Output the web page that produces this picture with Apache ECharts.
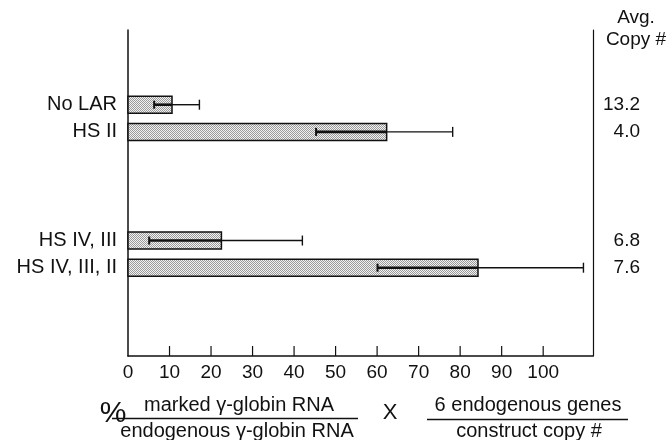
<!DOCTYPE html>
<html>
<head>
<meta charset="utf-8">
<script src="https://cdn.jsdelivr.net/npm/echarts@6/dist/echarts.min.js"></script>
<style>
  html, body { margin: 0; padding: 0; background: #fff; }
  #chart { width: 672px; height: 440px; }
</style>
</head>
<body>
<div id="chart"></div>
<script>
// data
const categories = ['No LAR', 'HS II', 'HS IV, III', 'HS IV, III, II']
const meanValues = [10.6, 62.3, 22.5, 84.3]
const errLow = [6.3, 45.3, 5.1, 60.1]
const errHigh = [17.2, 78.2, 42.0, 109.7]
const copyNumbers = ['13.2', '4.0', '6.8', '7.6']
const xTicks = [0, 10, 20, 30, 40, 50, 60, 70, 80, 90, 100]

// layout: rows on the category axis (blank rows make the gaps)
const totalSlots = 24
const slotOf = [5, 7, 15, 17]
const barPx = 17

const slotNames = []
for (let i = 0; i < totalSlots; i++) slotNames.push(String(i))
const leftLabel = {}
const rightLabel = {}
slotOf.forEach((s, i) => { leftLabel[s] = categories[i]; rightLabel[s] = copyNumbers[i] })

const barData = meanValues.map((v, i) => [v, slotOf[i]])
const errData = meanValues.map((v, i) => [errLow[i], v, errHigh[i], slotOf[i]])
const tickData = xTicks.filter(v => v > 0).map(v => [v])

// stippled fill
const tile = document.createElement('canvas')
tile.width = 2
tile.height = 2
const tctx = tile.getContext('2d')
tctx.fillStyle = '#f2f2f2'
tctx.fillRect(0, 0, 2, 2)
tctx.fillStyle = '#9a9a9a'
tctx.fillRect(0, 0, 1, 1)
tctx.fillRect(1, 1, 1, 1)

const font = 'Liberation Sans, Arial, Helvetica, sans-serif'
const ink = '#111'

const chart = echarts.init(document.getElementById('chart'), null, { renderer: 'canvas' })

const option = {
  animation: false,
  backgroundColor: '#fff',
  textStyle: { fontFamily: font, color: ink },
  grid: { left: 128, right: 79, top: 30, bottom: 84 },
  xAxis: {
    type: 'value',
    min: 0,
    max: 112,
    splitLine: { show: false },
    axisLine: { show: true, lineStyle: { color: ink, width: 1.5 } },
    axisTick: { show: false },
    axisLabel: { customValues: xTicks, margin: 7, fontSize: 19, color: ink, fontFamily: font }
  },
  yAxis: [
    {
      type: 'category',
      data: slotNames,
      inverse: true,
      position: 'left',
      axisLine: { show: true, lineStyle: { color: ink, width: 1.5 } },
      axisTick: { show: false },
      splitLine: { show: false },
      axisLabel: {
        interval: 0,
        margin: 11,
        fontSize: 20,
        color: ink,
        fontFamily: font,
        formatter: (v, idx) => leftLabel[idx] || ''
      }
    },
    {
      type: 'category',
      data: slotNames,
      inverse: true,
      position: 'right',
      axisLine: { show: true, onZero: false, lineStyle: { color: ink, width: 1.2 } },
      axisTick: { show: false },
      splitLine: { show: false },
      axisLabel: {
        interval: 0,
        margin: 47,
        align: 'right',
        fontSize: 19,
        color: ink,
        fontFamily: font,
        formatter: (v, idx) => rightLabel[idx] || ''
      }
    }
  ],
  graphic: [
    { type: 'text', x: 636, y: 18, style: { text: 'Avg.', font: '19px ' + font, fill: ink, textAlign: 'center', textVerticalAlign: 'middle' } },
    { type: 'text', x: 636, y: 40, style: { text: 'Copy #', font: '19px ' + font, fill: ink, textAlign: 'center', textVerticalAlign: 'middle' } },
    { type: 'text', x: 113, y: 414, style: { text: '%', font: '30px ' + font, fill: ink, textAlign: 'center', textVerticalAlign: 'middle' } },
    { type: 'text', x: 239, y: 405, style: { text: 'marked γ-globin RNA', font: '20px ' + font, fill: ink, textAlign: 'center', textVerticalAlign: 'middle' } },
    { type: 'line', shape: { x1: 112, y1: 418.5, x2: 358, y2: 418.5 }, style: { stroke: ink, lineWidth: 1.5 } },
    { type: 'text', x: 237, y: 431, style: { text: 'endogenous γ-globin RNA', font: '20px ' + font, fill: ink, textAlign: 'center', textVerticalAlign: 'middle' } },
    { type: 'text', x: 390, y: 413, style: { text: 'X', font: '22px ' + font, fill: ink, textAlign: 'center', textVerticalAlign: 'middle' } },
    { type: 'text', x: 528, y: 405, style: { text: '6 endogenous genes', font: '20px ' + font, fill: ink, textAlign: 'center', textVerticalAlign: 'middle' } },
    { type: 'line', shape: { x1: 427, y1: 419.5, x2: 628, y2: 419.5 }, style: { stroke: ink, lineWidth: 1.5 } },
    { type: 'text', x: 529, y: 431, style: { text: 'construct copy #', font: '20px ' + font, fill: ink, textAlign: 'center', textVerticalAlign: 'middle' } }
  ],
  series: [
    {
      // horizontal bars (custom so the bar can be thicker than one row)
      name: 'mean',
      type: 'custom',
      yAxisIndex: 0,
      data: barData,
      encode: { x: 0, y: 1 },
      z: 2,
      renderItem: function (params, api) {
        const y = api.value(1)
        const p0 = api.coord([0, y])
        const p1 = api.coord([api.value(0), y])
        return {
          type: 'rect',
          shape: { x: p0[0], y: p0[1] - barPx / 2, width: p1[0] - p0[0], height: barPx },
          style: { fill: { image: tile, repeat: 'repeat' }, stroke: ink, lineWidth: 1.5 }
        }
      }
    },
    {
      name: 'error',
      type: 'custom',
      yAxisIndex: 0,
      data: errData,
      encode: { x: [0, 1, 2], y: 3 },
      z: 3,
      renderItem: function (params, api) {
        const y = api.value(3)
        const pLow = api.coord([api.value(0), y])
        const pMid = api.coord([api.value(1), y])
        const pHigh = api.coord([api.value(2), y])
        const cy = pMid[1]
        return {
          type: 'group',
          children: [
            { type: 'line', shape: { x1: pLow[0], y1: cy, x2: pMid[0], y2: cy }, style: { stroke: ink, lineWidth: 2.6 } },
            { type: 'line', shape: { x1: pLow[0], y1: cy - 4, x2: pLow[0], y2: cy + 4 }, style: { stroke: ink, lineWidth: 2 } },
            { type: 'line', shape: { x1: pMid[0], y1: cy, x2: pHigh[0], y2: cy }, style: { stroke: ink, lineWidth: 1.4 } },
            { type: 'line', shape: { x1: pHigh[0], y1: cy - 5, x2: pHigh[0], y2: cy + 5 }, style: { stroke: ink, lineWidth: 1.4 } }
          ]
        }
      }
    },
    {
      // inward tick marks on the x axis at the labelled values
      name: 'ticks',
      type: 'custom',
      data: tickData,
      encode: { x: 0 },
      z: 4,
      silent: true,
      renderItem: function (params, api) {
        const bottom = params.coordSys.y + params.coordSys.height
        const x = api.coord([api.value(0), 0])[0]
        return {
          type: 'line',
          shape: { x1: x, y1: bottom, x2: x, y2: bottom - 10 },
          style: { stroke: ink, lineWidth: 1.2 }
        }
      }
    }
  ]
}

chart.setOption(option)
</script>
</body>
</html>
